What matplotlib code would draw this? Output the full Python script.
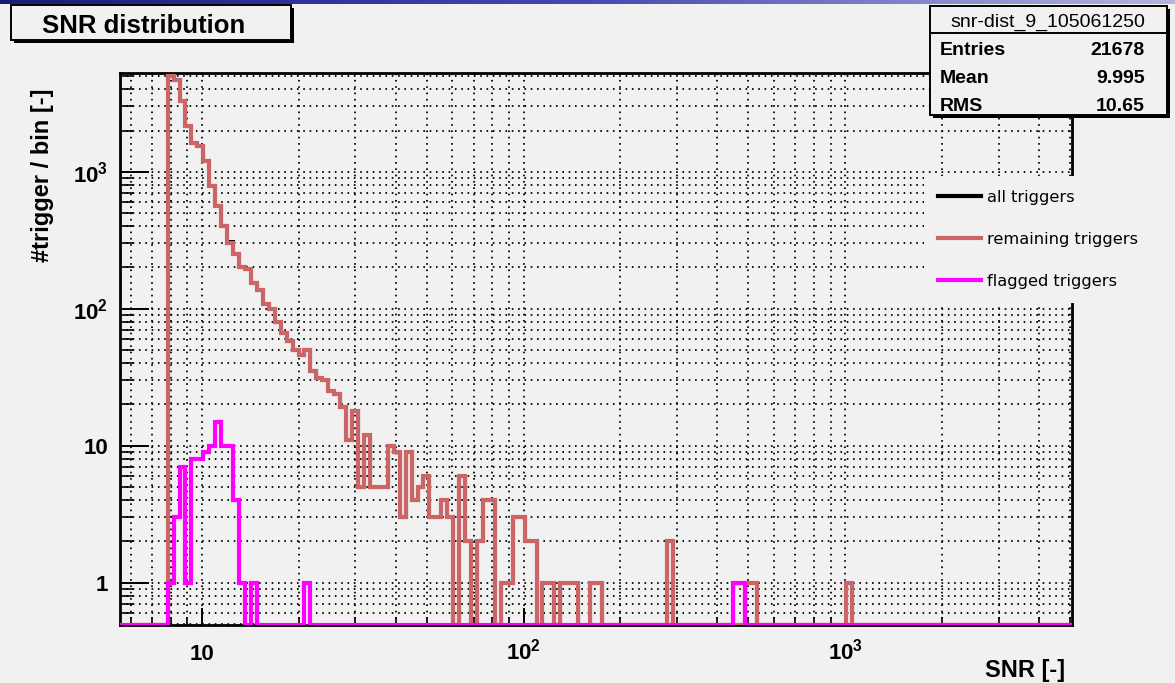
import numpy as np
import matplotlib
matplotlib.use("Agg")
import matplotlib.pyplot as plt
from matplotlib.patches import Rectangle
from matplotlib.lines import Line2D
from matplotlib.ticker import FixedLocator, LogLocator, NullFormatter
from matplotlib.colors import LinearSegmentedColormap

# ── canvas (pixels of the screenshot) ──────────────────────────
W, H = 1175, 683
BG = "#f1f1f1"
RED = "#cc6666"
MAGENTA = "#ff00ff"

plt.rcParams["mathtext.fontset"] = "custom"
plt.rcParams["mathtext.rm"] = "Liberation Sans"
plt.rcParams["mathtext.bf"] = "Liberation Sans:bold"
plt.rcParams["mathtext.it"] = "Liberation Sans:italic"

# ── histogram binning (log bins) and axis ranges ───────────────
SNR_MIN, SNR_MAX, N_BINS = 5.56, 5070.0, 160
Y_MIN, Y_MAX = 0.49, 5260.0
FIRST_BIN = 8          # first filled bin, lists below start here

# counts per bin, bins 8 .. 122
remaining = [
    5000, 4700, 3300, 2150, 1620, 1550, 1200, 790, 560, 400, 300, 250, 200, 195, 155, 138, 108, 100, 80, 66,
    58, 50, 46, 50, 35, 31, 30, 25, 24, 19, 11, 18, 5, 12, 5, 5, 5, 10, 9, 3,
    9, 4, 5, 6, 3, 3, 4, 3, 0, 6, 2, 0, 2, 4, 4, 0, 1, 1, 3, 3,
    2, 2, 0, 1, 1, 0, 1, 1, 1, 0, 0, 1, 1, 0, 0, 0, 0, 0, 0, 0,
    0, 0, 0, 0, 2, 0, 0, 0, 0, 0, 0, 0, 0, 0, 0, 0, 0, 1, 1, 0,
    0, 0, 0, 0, 0, 0, 0, 0, 0, 0, 0, 0, 0, 0, 1,
]
flagged = [
    1, 3, 7, 1, 8, 8, 9, 10, 15, 10, 10, 4, 1, 0, 1, 0, 0, 0, 0, 0,
    0, 0, 0, 1, 0, 0, 0, 0, 0, 0, 0, 0, 0, 0, 0, 0, 0, 0, 0, 0,
    0, 0, 0, 0, 0, 0, 0, 0, 0, 0, 0, 0, 0, 0, 0, 0, 0, 0, 0, 0,
    0, 0, 0, 0, 0, 0, 0, 0, 0, 0, 0, 0, 0, 0, 0, 0, 0, 0, 0, 0,
    0, 0, 0, 0, 0, 0, 0, 0, 0, 0, 0, 0, 0, 0, 0, 1, 1, 0, 0, 0,
    0, 0, 0, 0, 0, 0, 0, 0, 0, 0, 0, 0, 0, 0, 0,
]
all_trig = [
    5001, 4703, 3307, 2151, 1628, 1558, 1209, 800, 575, 410, 310, 254, 201, 195, 156, 138, 108, 100, 80, 66,
    58, 50, 46, 51, 35, 31, 30, 25, 24, 19, 11, 18, 5, 12, 5, 5, 5, 10, 9, 3,
    9, 4, 5, 6, 3, 3, 4, 3, 0, 6, 2, 0, 2, 4, 4, 0, 1, 1, 3, 3,
    2, 2, 0, 1, 1, 0, 1, 1, 1, 0, 0, 1, 1, 0, 0, 0, 0, 0, 0, 0,
    0, 0, 0, 0, 2, 0, 0, 0, 0, 0, 0, 0, 0, 0, 0, 1, 1, 1, 1, 0,
    0, 0, 0, 0, 0, 0, 0, 0, 0, 0, 0, 0, 0, 0, 1,
]

x_ticks = [10, 100, 1000]
x_labels = ["10", r"$\mathbf{10^{2}}$", r"$\mathbf{10^{3}}$"]
y_ticks = [1, 10, 100, 1000]
y_labels = ["1", "10", r"$\mathbf{10^{2}}$", r"$\mathbf{10^{3}}$"]

title = "SNR distribution"
x_title = "SNR [-]"
y_title = "#trigger / bin [-]"
series_labels = ["all triggers", "remaining triggers", "flagged triggers"]
stats_name = "snr-dist_9_105061250"
stats_keys = ["Entries", "Mean", "RMS"]
stats_vals = ["21678", "9.995", "10.65"]


def fx(x):
    return x / W


def fy(y):
    return 1 - y / H


def full(counts):
    arr = np.zeros(N_BINS)
    arr[FIRST_BIN:FIRST_BIN + len(counts)] = counts
    return np.maximum(arr, Y_MIN)   # empty bins sit on the bottom frame (log axis)


fig = plt.figure(figsize=(W / 100, H / 100), dpi=100, facecolor=BG)

# thin blue window band at the very top
band = fig.add_axes([0, fy(4), 1, 4 / H])
band.imshow(np.linspace(0, 1, 256)[None, :], aspect="auto",
            cmap=LinearSegmentedColormap.from_list("b", ["#1a1a7a", "#4848b0", "#b4b4e0"]))
band.set_axis_off()

ax = fig.add_axes([fx(120), fy(625), (1072 - 120) / W, (625 - 73) / H])
ax.set_facecolor(BG)
ax.set_xscale("log")
ax.set_yscale("log")
ax.set_xlim(SNR_MIN, SNR_MAX)
ax.set_ylim(Y_MIN, Y_MAX)

edges = np.logspace(np.log10(SNR_MIN), np.log10(SNR_MAX), N_BINS + 1)
ax.stairs(full(all_trig), edges, baseline=None, color="black", lw=2.2, zorder=3)
ax.stairs(full(remaining), edges, baseline=None, color=RED, lw=3.0, zorder=3.1)
ax.stairs(full(flagged), edges, baseline=None, color=MAGENTA, lw=3.0, zorder=3.2)

# ticks / grid, ROOT style
ax.xaxis.set_major_locator(FixedLocator(x_ticks))
ax.yaxis.set_major_locator(FixedLocator(y_ticks))
ax.xaxis.set_minor_locator(LogLocator(base=10, subs=np.arange(2, 10), numticks=50))
ax.yaxis.set_minor_locator(LogLocator(base=10, subs=np.arange(2, 10), numticks=50))
ax.xaxis.set_minor_formatter(NullFormatter())
ax.yaxis.set_minor_formatter(NullFormatter())
ax.set_xticklabels(x_labels, fontsize=16, fontweight="bold", family="Liberation Sans")
ax.set_yticklabels(y_labels, fontsize=16, fontweight="bold", family="Liberation Sans")
for lab in ax.get_xticklabels():
    lab.set_verticalalignment("baseline")

ax.tick_params(axis="x", which="major", direction="in", length=12, width=1.4, pad=25)
ax.tick_params(axis="x", which="minor", direction="in", length=6, width=1.2)
ax.tick_params(axis="y", which="major", direction="in", length=21, width=1.4, pad=8.5)
ax.tick_params(axis="y", which="minor", direction="in", length=9.5, width=1.2)
ax.tick_params(top=False, right=False, which="both")
ax.grid(True, which="both", color="black", linestyle=(0, (0.9, 2.6)), linewidth=1.3)
ax.set_axisbelow(True)
for sp in ax.spines.values():
    sp.set_linewidth(2.0)
    sp.set_color("black")

# axis titles
fig.text(fx(43), fy(88), y_title, rotation=90, ha="center", va="top",
         fontsize=17, fontweight="bold", family="Liberation Sans")
fig.text(fx(1065), fy(677), x_title, ha="right", va="baseline",
         fontsize=17, fontweight="bold", family="Liberation Sans")


def framed_box(x0, y0, x1, y1, shadow=3):
    fig.patches.append(Rectangle((fx(x0 + shadow), fy(y1 + shadow)), (x1 - x0) / W, (y1 - y0) / H,
                                 transform=fig.transFigure, facecolor="black", edgecolor="none", zorder=6))
    fig.patches.append(Rectangle((fx(x0), fy(y1)), (x1 - x0) / W, (y1 - y0) / H,
                                 transform=fig.transFigure, facecolor=BG, edgecolor="black", lw=1.4, zorder=6.1))


# title box
framed_box(11, 5, 291, 40)
fig.text(fx(42), fy(33), title, ha="left", va="baseline", fontsize=18.5,
         fontweight="bold", family="Liberation Sans", zorder=7)

# statistics box
framed_box(930, 6, 1167, 115)
fig.lines.append(Line2D([fx(930), fx(1167)], [fy(33), fy(33)], transform=fig.transFigure,
                        color="black", lw=1.4, zorder=6.2))
fig.text(fx(1048), fy(26.5), stats_name, ha="center", va="baseline", fontsize=14,
         family="Liberation Sans", zorder=7)
for i, (k, v) in enumerate(zip(stats_keys, stats_vals)):
    yb = 55 + i * 28
    fig.text(fx(940), fy(yb), k, ha="left", va="baseline", fontsize=14,
             fontweight="bold", family="Liberation Sans", zorder=7)
    fig.text(fx(1145), fy(yb), v, ha="right", va="baseline", fontsize=14,
             fontweight="bold", family="Liberation Sans", zorder=7)

# legend (no border, opaque, covers grid and right frame)
handles = [Line2D([], [], color="black", lw=3.0),
           Line2D([], [], color=RED, lw=3.0),
           Line2D([], [], color=MAGENTA, lw=3.0)]
leg = fig.legend(handles, series_labels, loc="upper left",
                 bbox_to_anchor=(fx(924), fy(176)), bbox_transform=fig.transFigure,
                 prop={"family": "DejaVu Sans", "size": 11.7}, frameon=True,
                 facecolor=BG, edgecolor="none", framealpha=1, fancybox=False,
                 borderpad=0.85, borderaxespad=0, handlelength=2.65, handletextpad=0.35,
                 labelspacing=1.67)
leg.set_zorder(5)

fig.savefig("out.png", dpi=100, facecolor=BG)
